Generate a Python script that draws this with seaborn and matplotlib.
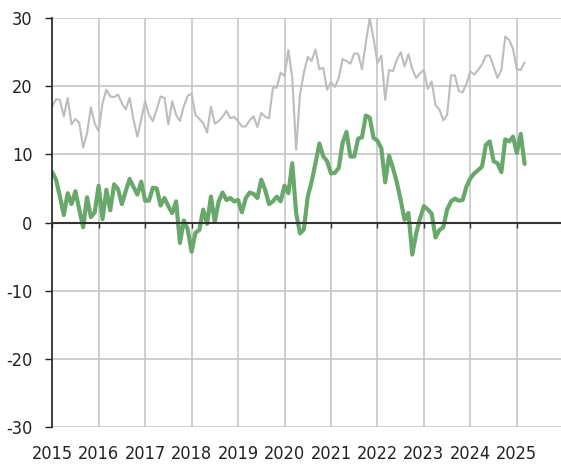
import numpy as np
import pandas as pd
import matplotlib
matplotlib.use("Agg")
import matplotlib.pyplot as plt
import seaborn as sns
from matplotlib import font_manager

# Monthly readings, January 2015 onwards
gray_series = [
    17.0, 18.1, 18.0, 15.6, 18.3, 14.4, 15.2, 14.6, 11.0, 13.1, 16.9, 14.5,
    13.4, 17.5, 19.5, 18.5, 18.4, 18.8, 17.5, 16.6, 18.3, 15.1, 12.6, 15.1,
    17.8, 15.8, 14.9, 16.6, 18.5, 18.3, 14.4, 17.8, 15.8, 14.9, 17.1, 18.6,
    18.9, 15.8, 15.2, 14.6, 13.2, 17.0, 14.5, 14.9, 15.5, 16.4, 15.3, 15.5,
    14.9, 14.1, 14.1, 15.0, 15.6, 14.0, 16.1, 15.5, 15.3, 19.8, 19.8, 22.0,
    21.5, 25.3, 21.2, 10.7, 18.8, 22.0, 24.3, 23.7, 25.4, 22.5, 22.7, 19.5,
    20.6, 19.9, 21.2, 24.0, 23.7, 23.3, 24.8, 24.8, 22.5, 26.4, 30.0, 27.0,
    23.4, 24.5, 18.0, 22.4, 22.2, 23.9, 25.0, 22.9, 24.7, 22.5, 21.2, 21.9,
    22.4, 19.6, 20.7, 17.2, 16.6, 15.0, 15.8, 21.6, 21.6, 19.3, 19.1, 20.4,
    22.2, 21.7, 22.4, 23.2, 24.5, 24.5, 22.9, 21.2, 22.4, 27.3, 26.8, 25.5,
    22.5, 22.4, 23.5,
]
green_series = [
    7.4, 6.3, 3.8, 1.1, 4.3, 2.7, 4.6, 1.9, -0.7, 3.7, 0.8, 1.5,
    5.4, 0.5, 4.8, 1.8, 5.6, 4.9, 2.7, 4.6, 6.4, 5.2, 4.1, 6.0,
    3.2, 3.2, 5.1, 5.0, 2.5, 3.6, 2.4, 1.4, 3.1, -3.0, 0.3, -1.0,
    -4.3, -1.5, -1.1, 1.9, -0.2, 3.8, 0.1, 3.1, 4.4, 3.3, 3.6, 3.1,
    3.3, 1.5, 3.6, 4.4, 4.2, 3.6, 6.3, 4.8, 2.7, 3.1, 3.8, 3.1,
    5.4, 4.3, 8.7, 1.4, -1.6, -1.0, 3.8, 6.0, 8.7, 11.6, 9.7, 9.0,
    7.2, 7.3, 8.0, 11.7, 13.3, 9.7, 9.7, 12.3, 12.5, 15.7, 15.4, 12.4,
    12.0, 10.9, 5.9, 9.8, 8.0, 5.9, 3.3, 0.4, 1.4, -4.7, -1.6, 0.6,
    2.4, 1.9, 1.3, -2.2, -1.1, -0.7, 1.9, 3.1, 3.5, 3.2, 3.3, 5.3,
    6.5, 7.2, 7.7, 8.2, 11.4, 11.9, 9.0, 8.7, 7.4, 12.2, 11.9, 12.6,
    10.2, 13.0, 8.6,
]
year_ticks = list(range(2015, 2026))
y_ticks = [-30, -20, -10, 0, 10, 20, 30]

n = len(green_series)
t = 2015 + np.arange(n) / 12.0
df = pd.DataFrame({"t": t, "gray": gray_series, "green": green_series})

sns.set_theme(style="white")
plt.rcParams["font.family"] = ["DejaVu Sans"]
tick_font = font_manager.FontProperties(family="DejaVu Sans", stretch="condensed", size=13)

fig = plt.figure(figsize=(5.61, 4.65), dpi=100)
ax = fig.add_axes([0.093, 0.082, 0.907, 0.879])

grid_c = "#c6c6c6"
ax.set_axisbelow(True)
ax.grid(True, color=grid_c, lw=1.2)

sns.lineplot(data=df, x="t", y="gray", ax=ax, color="#bdbdbd", lw=1.5)
sns.lineplot(data=df, x="t", y="green", ax=ax, color="#69a86b", lw=3.0)

ax.set_xlim(2015, 2025.95)
ax.set_ylim(-30, 30)
ax.set_xticks(year_ticks)
ax.set_yticks(y_ticks)
ax.set_yticklabels([str(v) for v in y_ticks], fontproperties=tick_font)
ax.set_xlabel("")
ax.set_ylabel("")

for s in ["top", "right"]:
    ax.spines[s].set_visible(False)
ax.spines["left"].set_color("#222222")
ax.spines["left"].set_linewidth(1.2)
ax.spines["bottom"].set_position(("data", 0))
ax.spines["bottom"].set_color("#333333")
ax.spines["bottom"].set_linewidth(1.5)

ax.tick_params(axis="y", direction="out", length=5, width=1.0, color="#222222",
               pad=9, labelcolor="#222222", left=True)
ax.tick_params(axis="x", direction="out", length=3.5, width=1.0, color="#333333",
               labelbottom=False, bottom=True)

sec = ax.secondary_xaxis("bottom")
sec.set_xticks(year_ticks)
sec.set_xticklabels([str(y) for y in year_ticks], fontproperties=tick_font)
sec.spines["bottom"].set_visible(False)
sec.tick_params(length=0, pad=13, labelcolor="#222222")

fig.savefig("out.png", dpi=100)
